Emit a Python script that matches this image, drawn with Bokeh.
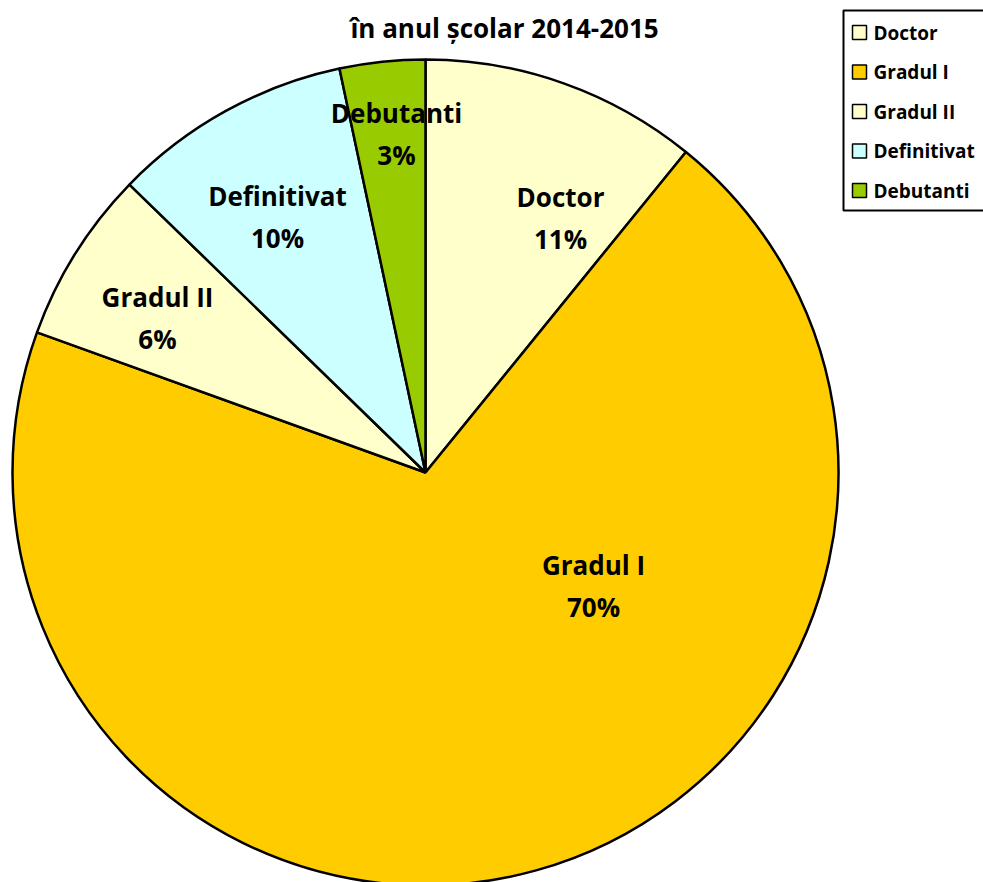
import math
from bokeh.plotting import figure
from bokeh.models import Range1d, ColumnDataSource
from bokeh.core.properties import value
from bokeh.embed import file_html
from bokeh.resources import INLINE

# ---- data ----
categories = ["Doctor", "Gradul I", "Gradul II", "Definitivat", "Debutanti"]
shares = [10.86, 69.65, 6.77, 9.38, 3.34]          # percent
pct_labels = ["11%", "70%", "6%", "10%", "3%"]
colors = ["#FFFFCC", "#FFCC00", "#FFFFCC", "#CCFFFF", "#99CC00"]
title_text = "în anul școlar 2014-2015"

# ---- layout ----
W, H = 983, 882
CX, CY, R = 425, H - 472, 413
FONT = value("Open Sans")
# label anchor offsets from pie centre (screen px, y downwards)
label_off = [(135, -255), (168, 113), (-268, -155), (-148, -256), (-29, -339)]

p = figure(width=W, height=H, x_range=Range1d(0, W), y_range=Range1d(0, H),
           x_axis_type=None, y_axis_type=None, toolbar_location=None,
           output_backend="svg", min_border=0, outline_line_color=None,
           background_fill_color="white", border_fill_color="white")
p.grid.visible = False

total = sum(shares)
starts, ends = [], []
cum = 0.0
for s in shares:
    starts.append(math.pi / 2 - cum / total * 2 * math.pi)
    cum += s
    ends.append(math.pi / 2 - cum / total * 2 * math.pi)

src = ColumnDataSource(dict(cat=categories, start=starts, end=ends, color=colors))
p.wedge(x=CX, y=CY, radius=R, start_angle="start", end_angle="end",
        direction="clock", fill_color="color", line_color="black",
        line_width=2.5, source=src)

# slice labels
nx = [CX + dx for dx, dy in label_off]
ny = [CY - dy + 21 for dx, dy in label_off]
py = [CY - dy - 21 for dx, dy in label_off]
p.text(x=nx, y=ny, text=categories, text_font=FONT, text_font_style="bold",
       text_font_size="26px", text_align="center", text_baseline="middle",
       text_color="black")
p.text(x=nx, y=py, text=pct_labels, text_font=FONT, text_font_style="bold",
       text_font_size="26px", text_align="center", text_baseline="middle",
       text_color="black")

# title
p.text(x=[504], y=[H - 27], text=[title_text], text_font=FONT,
       text_font_style="bold", text_font_size="26px", text_align="center",
       text_baseline="middle", text_color="black")

# legend (manual)
p.quad(left=[843], right=[1010], top=[H - 10], bottom=[H - 210],
       fill_color="white", line_color="black", line_width=2)
row_y = [H - 32 - 39.5 * i for i in range(len(categories))]
p.quad(left=[852] * 5, right=[866] * 5, top=[y + 7 for y in row_y],
       bottom=[y - 7 for y in row_y], fill_color=colors, line_color="black",
       line_width=1.5)
p.text(x=[873] * 5, y=row_y, text=categories, text_font=FONT,
       text_font_style="bold", text_font_size="19px", text_align="left",
       text_baseline="middle", text_color="black")

open("out.html", "w").write(file_html(p, INLINE))
